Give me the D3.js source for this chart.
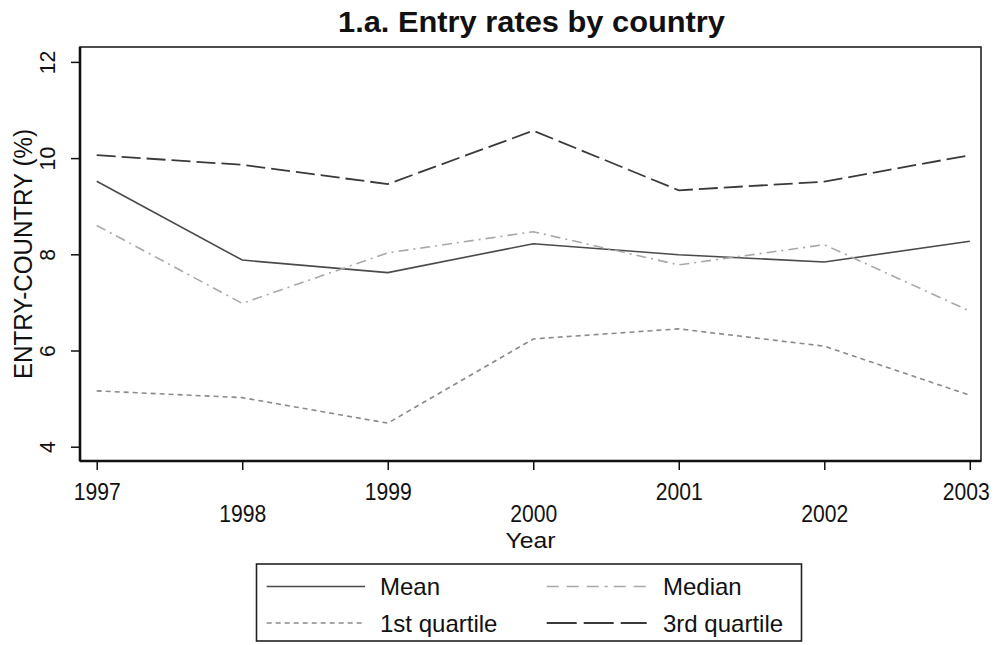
<!DOCTYPE html>
<html>
<head>
<meta charset="utf-8">
<script src="https://cdn.jsdelivr.net/npm/d3@7"></script>
<style>
  html, body { margin: 0; padding: 0; background: #fff; }
  svg { display: block; font-family: "Liberation Sans", Arial, sans-serif; }
</style>
</head>
<body>
<svg id="chart" width="996" height="645"></svg>
<script>
// ---- data ----
const years = [1997, 1998, 1999, 2000, 2001, 2002, 2003];
const meanVals = [9.52, 7.88, 7.62, 8.22, 7.99, 7.84, 8.27];
const medianVals = [8.60, 6.98, 8.03, 8.47, 7.78, 8.20, 6.82];
const q1Vals = [5.16, 5.02, 4.49, 6.24, 6.45, 6.09, 5.07];
const q3Vals = [10.06, 9.86, 9.46, 10.57, 9.33, 9.51, 10.06];
const yTicks = [4, 6, 8, 10, 12];
const seriesNames = ["Mean", "Median", "1st quartile", "3rd quartile"];
const titleText = "1.a. Entry rates by country";
const yTitle = "ENTRY-COUNTRY (%)";
const xTitle = "Year";

const series = [
  { name: seriesNames[0], values: meanVals,   color: "#4a4a4a", dash: null,        legendDash: null,        width: 1.6 },
  { name: seriesNames[1], values: medianVals, color: "#a8a8a8", dash: "10,5,2,5",  legendDash: "12,8,12,8,12,6,3,6", width: 1.6 },
  { name: seriesNames[2], values: q1Vals,     color: "#8a8a8a", dash: "5,4",       legendDash: "5,4",       width: 1.6 },
  { name: seriesNames[3], values: q3Vals,     color: "#3a3a3a", dash: "19,6",      legendDash: "30,7",      width: 1.8 }
];

const svg = d3.select("#chart");
const plot = { left: 80, right: 981, top: 47, bottom: 461 };

const x = d3.scaleLinear().domain([1997, 2003]).range([96.7, 969.8]);
const y = d3.scaleLinear().domain([4, 12]).range([446.7, 61.9]);

// title
svg.append("text")
  .attr("x", (plot.left + plot.right) / 2 + 1)
  .attr("y", 32)
  .attr("text-anchor", "middle")
  .attr("font-size", 30)
  .attr("font-weight", "bold")
  .attr("fill", "#111")
  .attr("textLength", 387)
  .attr("lengthAdjust", "spacingAndGlyphs")
  .text(titleText);

// plot frame
svg.append("rect")
  .attr("x", plot.left).attr("y", plot.top)
  .attr("width", plot.right - plot.left).attr("height", plot.bottom - plot.top)
  .attr("fill", "none").attr("stroke", "#222").attr("stroke-width", 1.6);

// lines
const line = d3.line().x((d, i) => x(years[i])).y(d => y(d));
series.forEach(s => {
  svg.append("path")
    .datum(s.values)
    .attr("d", line)
    .attr("fill", "none")
    .attr("stroke", s.color)
    .attr("stroke-width", s.width)
    .attr("stroke-dasharray", s.dash);
});

// y axis
const yAxis = d3.axisLeft(y).tickValues(yTicks).tickSize(9).tickFormat(d3.format("d"));
const gy = svg.append("g").attr("transform", `translate(${plot.left},0)`).call(yAxis);
gy.select(".domain").attr("d", `M0,${plot.top}V${plot.bottom}`).attr("stroke", "#111").attr("stroke-width", 2.6);
gy.selectAll(".tick line").attr("stroke", "#111").attr("stroke-width", 1.5);
gy.selectAll(".tick text")
  .attr("x", 0).attr("y", -25).attr("dy", 0)
  .attr("transform", "rotate(-90)")
  .attr("text-anchor", "middle")
  .attr("font-size", 22)
  .attr("fill", "#111")
  .attr("textLength", d => String(d).length * 11.8)
  .attr("lengthAdjust", "spacingAndGlyphs");
gy.attr("font-family", null).attr("font-size", null);

// x axis
const xAxis = d3.axisBottom(x).tickValues(years).tickSize(9).tickFormat(d3.format("d"));
const gx = svg.append("g").attr("transform", `translate(0,${plot.bottom})`).call(xAxis);
gx.select(".domain").attr("d", `M${plot.left},0H${plot.right}`).attr("stroke", "#111").attr("stroke-width", 2.6);
gx.selectAll(".tick line").attr("stroke", "#111").attr("stroke-width", 1.5);
gx.selectAll(".tick text")
  .attr("x", (d, i) => (i === years.length - 1 ? -4 : 0))
  .attr("y", (d, i) => (i % 2 === 0 ? 39 : 61)).attr("dy", 0)
  .attr("font-size", 24)
  .attr("fill", "#111")
  .attr("textLength", 47)
  .attr("lengthAdjust", "spacingAndGlyphs");
gx.attr("font-family", null).attr("font-size", null);

// axis titles
svg.append("text")
  .attr("transform", `translate(32,${(plot.top + plot.bottom) / 2}) rotate(-90)`)
  .attr("text-anchor", "middle")
  .attr("font-size", 26)
  .attr("fill", "#111")
  .attr("textLength", 250)
  .attr("lengthAdjust", "spacingAndGlyphs")
  .text(yTitle);

svg.append("text")
  .attr("x", (plot.left + plot.right) / 2)
  .attr("y", 548)
  .attr("text-anchor", "middle")
  .attr("font-size", 22)
  .attr("fill", "#111")
  .attr("textLength", 50)
  .attr("lengthAdjust", "spacingAndGlyphs")
  .text(xTitle);

// legend
const lg = svg.append("g");
lg.append("rect")
  .attr("x", 256.5).attr("y", 564)
  .attr("width", 545).attr("height", 77)
  .attr("fill", "#fff").attr("stroke", "#222").attr("stroke-width", 1.6);
const legendPos = [
  { x0: 266.7, x1: 365, tx: 380, cy: 586.5 },
  { x0: 546.7, x1: 646.7, tx: 663, cy: 586.5 },
  { x0: 266.7, x1: 365, tx: 380, cy: 623 },
  { x0: 546.7, x1: 646.7, tx: 663, cy: 623 }
];
series.forEach((s, i) => {
  const p = legendPos[i];
  lg.append("line")
    .attr("x1", p.x0).attr("x2", p.x1)
    .attr("y1", p.cy).attr("y2", p.cy)
    .attr("stroke", s.color).attr("stroke-width", s.width)
    .attr("stroke-dasharray", s.legendDash);
  lg.append("text")
    .attr("x", p.tx).attr("y", p.cy + 8.5)
    .attr("font-size", 24)
    .attr("fill", "#111")
    .text(s.name);
});
</script>
</body>
</html>
